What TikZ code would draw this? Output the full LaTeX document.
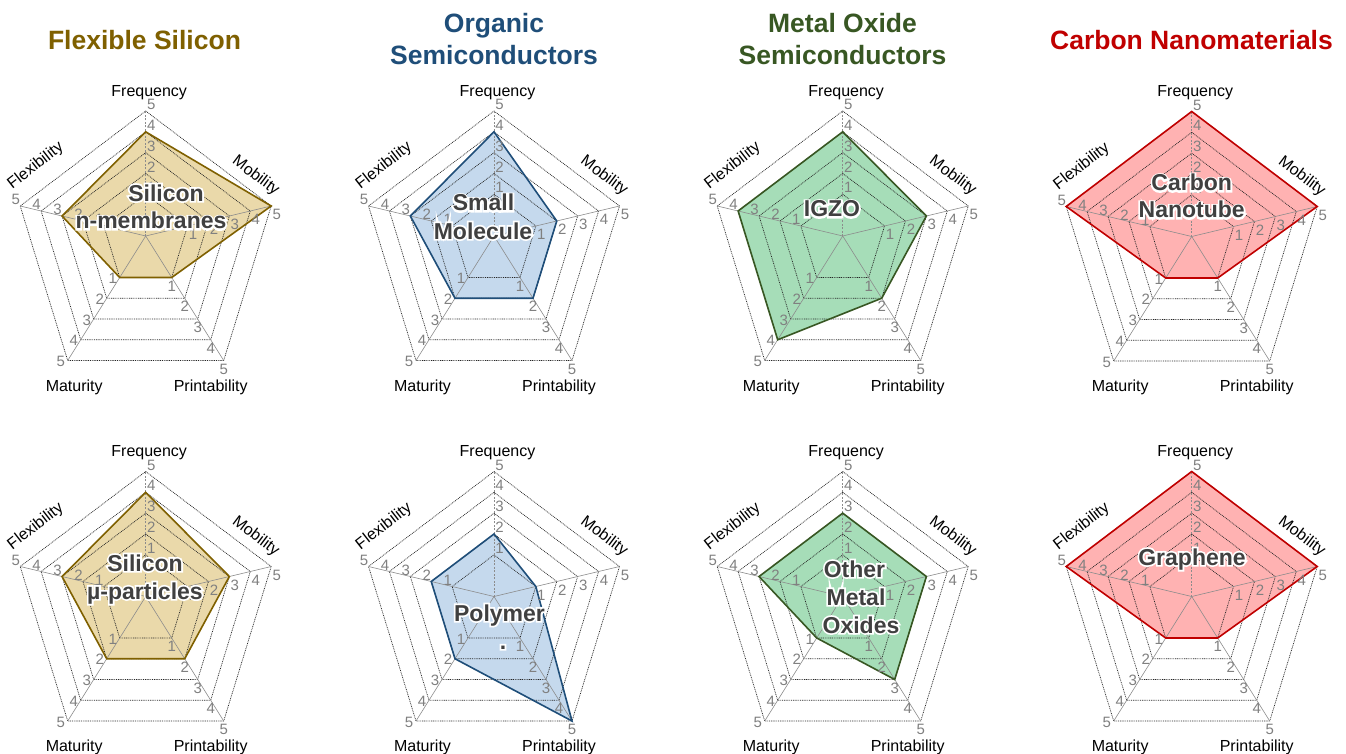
\documentclass[tikz,border=0pt]{standalone}
\usepackage{fontspec}
\setmainfont{Liberation Sans}
\newfontfamily\glowfont{Liberation Sans}[BoldFeatures={FakeBold=15}]
\usetikzlibrary{calc}
\definecolor{goldfillc}{RGB}{234,217,170}
\definecolor{goldlinec}{RGB}{127,96,0}
\definecolor{bluefillc}{RGB}{197,217,237}
\definecolor{bluelinec}{RGB}{31,78,121}
\definecolor{greenfillc}{RGB}{166,221,184}
\definecolor{greenlinec}{RGB}{56,87,35}
\definecolor{redfillc}{RGB}{255,178,178}
\definecolor{redlinec}{RGB}{192,0,0}
\definecolor{labc}{RGB}{64,64,64}
\definecolor{tickc}{RGB}{128,128,128}
\tikzset{
  ring/.style={draw=black!85, line width=0.7pt, dash pattern=on 0.9pt off 0.9pt},
  spoke/.style={draw=black!45, line width=0.6pt},
  fspoke/.style={draw=black!45, line width=0.6pt, dash pattern=on 2pt off 1.5pt},
  tick/.style={text=tickc, font=\fontsize{15}{15}\selectfont, inner sep=0pt},
  axl/.style={font=\fontsize{16}{16}\selectfont, inner sep=0pt},
  clab/.style={font=\bfseries\fontsize{23}{23}\selectfont, text=labc, inner sep=0pt, anchor=base},
  glab/.style={font=\glowfont\bfseries\fontsize{23}{23}\selectfont, text=white, inner sep=0pt, anchor=base},
  ttl/.style={font=\bfseries\fontsize{26.5}{32}\selectfont, inner sep=0pt, anchor=base},
  goldfill/.style={fill=goldfillc},
  goldline/.style={draw=goldlinec, line width=1.6pt, line join=miter},
  bluefill/.style={fill=bluefillc},
  blueline/.style={draw=bluelinec, line width=1.6pt, line join=miter},
  greenfill/.style={fill=greenfillc},
  greenline/.style={draw=greenlinec, line width=1.6pt, line join=miter},
  redfill/.style={fill=redfillc},
  redline/.style={draw=redlinec, line width=1.6pt, line join=miter},
}
% #1 prefix, #2 x, #3 y, #4 F, #5 M, #6 P, #7 Ma, #8 Fl, #9 colour
\newcommand\radar[9]{%
  \coordinate (#1O) at (#2,#3);
  \coordinate (#1A) at ($(#1O)+(0,-125)$);
  \coordinate (#1B) at ($(#1O)+(125.5,-30)$);
  \coordinate (#1C) at ($(#1O)+(78,124.5)$);
  \coordinate (#1D) at ($(#1O)+(-78,124.5)$);
  \coordinate (#1E) at ($(#1O)+(-125.5,-30)$);
  \coordinate (#1p1) at ($(#1O)!{(#4+1)/6}!(#1A)$);
  \coordinate (#1p2) at ($(#1O)!{(#5+1)/6}!(#1B)$);
  \coordinate (#1p3) at ($(#1O)!{(#6+1)/6}!(#1C)$);
  \coordinate (#1p4) at ($(#1O)!{(#7+1)/6}!(#1D)$);
  \coordinate (#1p5) at ($(#1O)!{(#8+1)/6}!(#1E)$);
  \fill[#9fill] (#1p1) -- (#1p2) -- (#1p3) -- (#1p4) -- (#1p5) -- cycle;
  \foreach \k in {1,...,5} {
    \draw[ring] ($(#1O)!{(\k+1)/6}!(#1A)$) -- ($(#1O)!{(\k+1)/6}!(#1B)$)
      -- ($(#1O)!{(\k+1)/6}!(#1C)$) -- ($(#1O)!{(\k+1)/6}!(#1D)$)
      -- ($(#1O)!{(\k+1)/6}!(#1E)$) -- cycle;
  }
  \draw[fspoke] (#1O) -- (#1A);
  \draw[spoke] (#1O) -- (#1B);
  \draw[spoke] (#1O) -- (#1C);
  \draw[spoke] (#1O) -- (#1D);
  \draw[spoke] (#1O) -- (#1E);
  \draw[#9line] (#1p1) -- (#1p2) -- (#1p3) -- (#1p4) -- (#1p5) -- cycle;
  \foreach \k in {1,...,5} {
    \coordinate (#1ta) at ($(#1O)!{(\k+1)/6}!(#1A)$);
    \coordinate (#1tb) at ($(#1O)!{(\k+1)/6}!(#1B)$);
    \coordinate (#1tc) at ($(#1O)!{(\k+1)/6}!(#1C)$);
    \coordinate (#1td) at ($(#1O)!{(\k+1)/6}!(#1D)$);
    \coordinate (#1te) at ($(#1O)!{(\k+1)/6}!(#1E)$);
    \node[tick] (#1tA\k) at ($(#1ta)+(5.5,-6.5)$) {\k};
    \node[tick] (#1tB\k) at ($(#1tb)+(5.5,8.5)$) {\k};
    \node[tick] (#1tC\k) at ($(#1tc)+(0,8.5)$) {\k};
    \node[tick] (#1tD\k) at ($(#1td)+(-7,1)$) {\k};
    \node[tick] (#1tE\k) at ($(#1te)+(-4.5,-6.5)$) {\k};
  }
  \node[axl] (#1nF) at ($(#1O)+(3.5,-143.5)$) {Frequency};
  \node[axl, rotate=-37] (#1nM) at ($(#1O)+(110,-60)$) {Mobility};
  \node[axl] (#1nP) at ($(#1O)+(65,151)$) {Printability};
  \node[axl] (#1nMa) at ($(#1O)+(-71.5,151)$) {Maturity};
  \node[axl, rotate=38] (#1nFl) at ($(#1O)+(-110,-70)$) {Flexibility};
}
% #1 name, #2 x, #3 y (baseline), #4 text
\newcommand\glow[4]{%
  \node[glab] (#1g) at (#2,#3) {#4};
  \node[clab] (#1) at (#2,#3) {#4};
}
\begin{document}
\begin{tikzpicture}[x=1pt,y=-1pt]
  \fill[white] (0,0) rectangle (1346,754);
  \useasboundingbox (0,0) rectangle (1346,754);

  \node[ttl, text=goldlinec] (t1) at (144.5,49.5) {Flexible Silicon};
  \node[ttl, text=bluelinec] (t2a) at (494,33) {Organic};
  \node[ttl, text=bluelinec] (t2b) at (494,65) {Semiconductors};
  \node[ttl, text=greenlinec] (t3a) at (842.5,33) {Metal Oxide};
  \node[ttl, text=greenlinec] (t3b) at (842.5,65) {Semiconductors};
  \node[ttl, text=redlinec] (t4) at (1191.5,49.5) {Carbon Nanomaterials};

  \radar{a}{145.7}{236}{4}{5}{1}{1}{3}{gold}
  \radar{b}{494}{236}{4}{2}{2}{2}{3}{blue}
  \radar{c}{842.7}{236}{4}{3}{2}{4}{4}{green}
  \radar{d}{1191.7}{236.5}{5}{5}{1}{1}{5}{red}
  \radar{e}{145.7}{596.5}{4}{3}{2}{2}{3}{gold}
  \radar{f}{494}{596.5}{2}{1}{5}{2}{2}{blue}
  \radar{g}{842.7}{596.5}{3}{3}{3}{1}{3}{green}
  \radar{h}{1191.7}{596.5}{5}{5}{1}{1}{5}{red}

  \glow{la1}{166}{201}{Silicon}
  \glow{la2}{151}{229}{n-membranes}
  \glow{lb1}{483.5}{211}{Small}
  \glow{lb2}{483}{239}{Molecule}
  \glow{lc1}{832}{217}{IGZO}
  \glow{ld1}{1191.7}{191}{Carbon}
  \glow{ld2}{1191.7}{218}{Nanotube}
  \glow{le1}{145}{571}{Silicon}
  \glow{le2}{145}{599}{µ-particles}
  \glow{lf1}{499.5}{621}{Polymer}
  \glow{lf2}{503}{649}{.}
  \glow{lg1}{854.5}{577}{Other}
  \glow{lg2}{856}{605}{Metal}
  \glow{lg3}{861}{633}{Oxides}
  \glow{lh1}{1192}{565}{Graphene}
\end{tikzpicture}
\end{document}
